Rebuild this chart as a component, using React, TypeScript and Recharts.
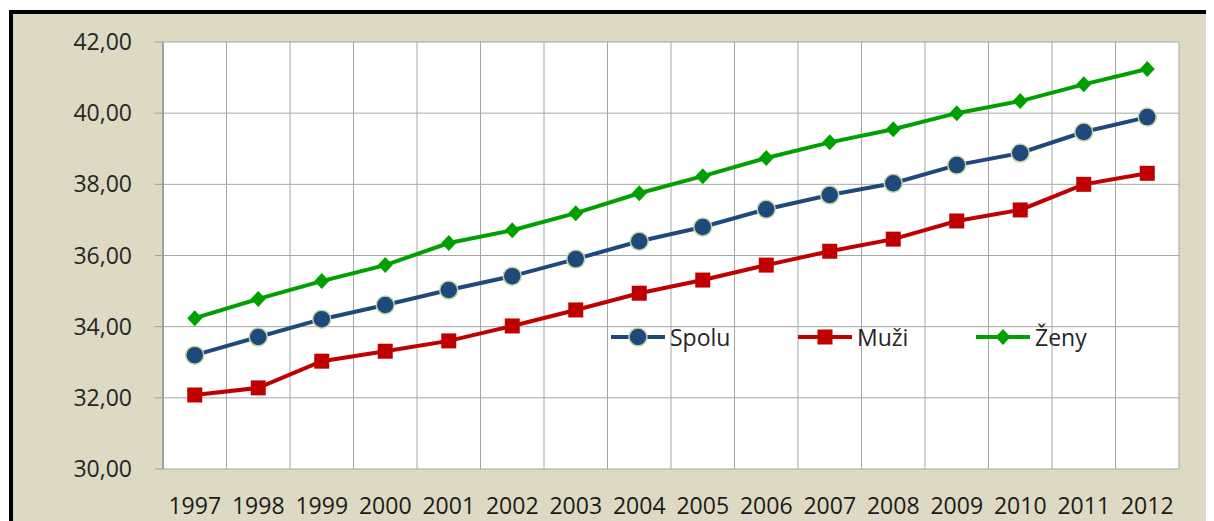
import { LineChart, Line, XAxis, YAxis, CartesianGrid } from "recharts";

const years = ["1997", "1998", "1999", "2000", "2001", "2002", "2003", "2004", "2005", "2006", "2007", "2008", "2009", "2010", "2011", "2012"];
const spolu = [33.2, 33.71, 34.21, 34.61, 35.03, 35.42, 35.9, 36.4, 36.8, 37.3, 37.7, 38.03, 38.54, 38.88, 39.47, 39.89];
const muzi = [32.08, 32.28, 33.03, 33.31, 33.6, 34.02, 34.47, 34.94, 35.31, 35.73, 36.12, 36.46, 36.97, 37.28, 38.0, 38.31];
const zeny = [34.24, 34.78, 35.28, 35.73, 36.35, 36.71, 37.19, 37.75, 38.23, 38.74, 39.18, 39.55, 40.0, 40.34, 40.81, 41.24];
const yTicks = [30, 32, 34, 36, 38, 40, 42];
// category boundaries, for the grid and the small tick marks under the axis
const bounds = years.map((_, i) => i).concat(years.length);

const BLUE = "#1f497d";
const RED = "#c00000";
const GREEN = "#00a000";
const GRID = "#a6a6a6";
const FONT = "'Open Sans', sans-serif";

const data = years.map((y, i) => ({ year: y, idx: i, spolu: spolu[i], muzi: muzi[i], zeny: zeny[i] }));

const fmt = (v: number) => v.toFixed(2).replace(".", ",");

const Circle = ({ cx, cy }: any) => (
  <circle cx={cx} cy={cy} r={9} fill={BLUE} stroke="#c4d79b" strokeWidth={1.5} />
);
const Square = ({ cx, cy }: any) => <rect x={cx - 7.5} y={cy - 7.5} width={15} height={15} fill={RED} />;
const Diamond = ({ cx, cy }: any) => (
  <polygon points={`${cx},${cy - 8} ${cx + 7.5},${cy} ${cx},${cy + 8} ${cx - 7.5},${cy}`} fill={GREEN} />
);

const legendItems = [
  { name: "Spolu", color: BLUE, left: 602, mark: "circle" },
  { name: "Muži", color: RED, left: 789, mark: "square" },
  { name: "Ženy", color: GREEN, left: 967, mark: "diamond" },
];

function LegendBox() {
  return (
    <>
      {legendItems.map((it) => (
        <div
          key={it.name}
          style={{ position: "absolute", left: it.left, top: 313, display: "flex", alignItems: "center", height: 32 }}
        >
          <svg width={56} height={20}>
            <line x1={1} y1={10} x2={55} y2={10} stroke={it.color} strokeWidth={4} />
            {it.mark === "circle" && <Circle cx={28} cy={10} />}
            {it.mark === "square" && <Square cx={28} cy={10} />}
            {it.mark === "diamond" && <Diamond cx={28} cy={10} />}
          </svg>
          <span style={{ fontFamily: FONT, fontSize: 23, color: "#262626", marginLeft: 4 }}>{it.name}</span>
        </div>
      ))}
    </>
  );
}

export default function App() {
  return (
    <div style={{ position: "relative", width: 1206, height: 513, overflow: "hidden" }}>
      <div
        style={{
          position: "absolute",
          left: 1,
          top: 2,
          right: 0,
          bottom: 0,
          background: "#ddd9c3",
          borderTop: "4px solid #000",
          borderLeft: "4px solid #000",
        }}
      />
      <div style={{ position: "absolute", left: 0, top: 0 }}>
        <LineChart width={1206} height={513} data={data} margin={{ top: 34, right: 35, bottom: 8, left: 0 }}>
          <CartesianGrid stroke={GRID} fill="#fff" />
          <XAxis
            xAxisId={0}
            dataKey="idx"
            type="number"
            domain={[0, years.length]}
            ticks={bounds}
            allowDataOverflow
            height={0}
            tickFormatter={() => ""}
            tickSize={8}
            axisLine={{ stroke: "#a0a0a0", strokeWidth: 2 }}
            tickLine={{ stroke: "#a0a0a0" }}
          />
          <XAxis
            xAxisId="cat"
            dataKey="year"
            scale="band"
            interval={0}
            height={44}
            axisLine={false}
            tickLine={false}
            tickMargin={23}
            tick={{ fontFamily: FONT, fontSize: 23, fill: "#1a1a1a" }}
          />
          <YAxis
            width={155}
            domain={[30, 42]}
            ticks={yTicks}
            tickFormatter={fmt}
            tickSize={8}
            tickMargin={23}
            axisLine={{ stroke: "#a0a0a0", strokeWidth: 2 }}
            tickLine={{ stroke: "#a0a0a0" }}
            tick={{ fontFamily: FONT, fontSize: 23, fill: "#262626" }}
          />
          <Line xAxisId="cat" dataKey="spolu" stroke={BLUE} strokeWidth={4} dot={<Circle />} isAnimationActive={false} />
          <Line xAxisId="cat" dataKey="muzi" stroke={RED} strokeWidth={4} dot={<Square />} isAnimationActive={false} />
          <Line xAxisId="cat" dataKey="zeny" stroke={GREEN} strokeWidth={4} dot={<Diamond />} isAnimationActive={false} />
        </LineChart>
      </div>
      <LegendBox />
    </div>
  );
}
